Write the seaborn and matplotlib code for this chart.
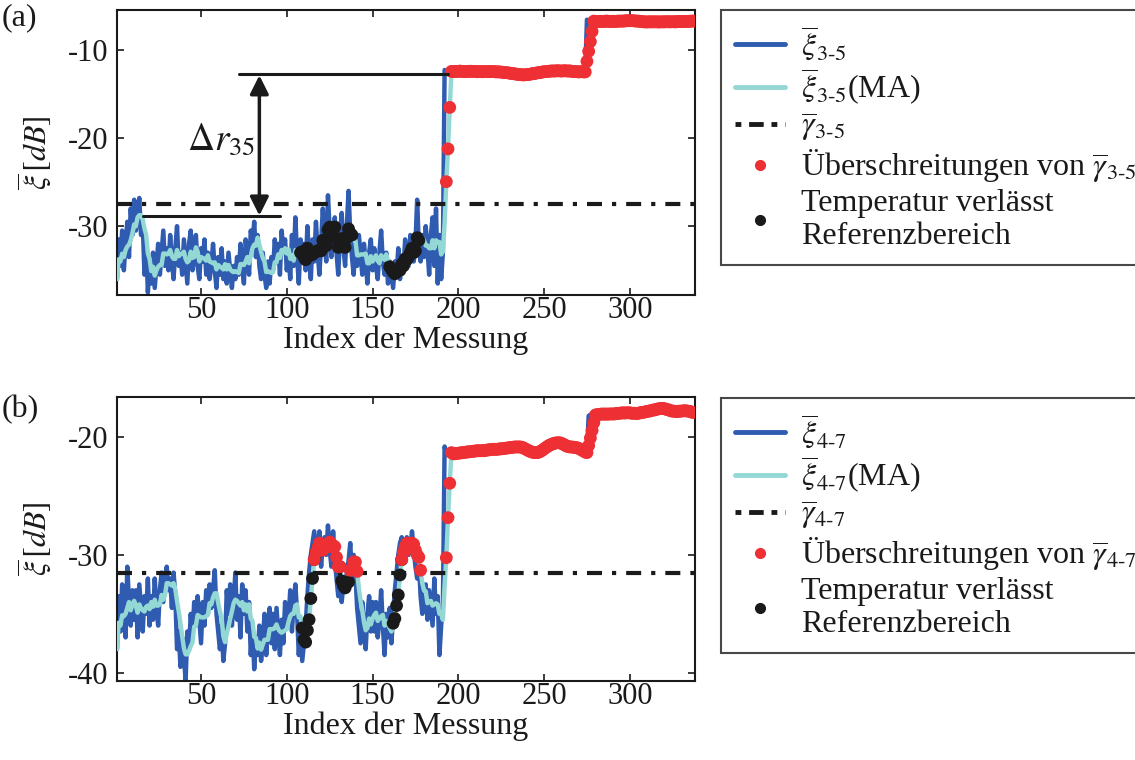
import numpy as np
import pandas as pd
import matplotlib
matplotlib.use("Agg")
import matplotlib.pyplot as plt
from matplotlib.lines import Line2D
import seaborn as sns

# ---- data ----
xi35_low = [
    -36.0, -31.5, -34.5, -30.5, -35.0, -32.0, -29.5, -33.5, -28.0, -31.0,
    -27.0, -30.5, -28.5, -26.8, -31.0, -29.5, -35.5, -32.0, -37.5, -34.0,
    -36.5, -33.0, -37.0, -34.5, -32.0, -35.5, -33.0, -30.5, -34.5, -32.5,
    -35.0, -31.0, -34.0, -36.0, -32.5, -30.0, -34.5, -33.0, -35.5, -31.5,
    -34.0, -36.5, -32.0, -30.5, -35.0, -33.5, -31.0, -34.5, -36.0, -32.5,
    -34.0, -31.5, -35.5, -33.0, -36.0, -34.5, -32.0, -35.0, -37.0, -33.5,
    -35.5, -32.5, -36.0, -34.0, -36.5, -33.0, -35.0, -37.0, -34.5, -36.0,
    -33.5, -35.5, -32.0, -34.5, -36.5, -31.5, -33.0, -35.5, -30.5, -32.0,
    -29.5, -33.5, -31.0, -34.5, -36.0, -33.0, -35.5, -37.0, -34.0, -36.5,
    -33.5, -35.0, -31.5, -34.0, -32.0, -35.5, -30.5, -33.0, -31.5, -35.0,
    -33.0, -36.0, -31.0, -34.5, -29.0, -33.5, -36.5, -31.5, -34.0, -32.0,
    -35.0, -30.0, -33.5, -36.0, -31.5, -34.0, -29.5, -33.0, -35.5, -32.0,
    -28.0, -31.5, -34.0, -26.5, -30.5, -33.5, -31.0, -29.0, -33.0, -35.5,
    -31.0, -28.5, -32.5, -34.5, -30.0, -26.0, -31.0, -33.5, -35.5, -32.0,
    -34.5, -31.0, -33.0, -35.5, -32.0, -34.0, -36.5, -33.0, -31.5, -35.0,
    -32.5, -34.5, -36.0, -33.0, -30.5, -34.0, -35.5, -33.0, -36.5, -34.0,
    -35.5, -37.0, -34.0, -35.5, -32.5, -36.0, -33.5, -35.0, -31.5, -33.0,
    -34.5, -31.0, -32.5, -34.0, -32.0, -27.0, -32.5, -34.0, -31.0, -33.5,
    -30.0, -32.5, -35.5, -31.0, -29.0, -34.5, -28.0, -36.5, -31.0, -36.0, -33.0,
]
xi35_mid = [
    -12.3, -12.5, -12.4, -12.5, -12.6, -12.4, -12.5, -12.3, -12.5, -12.4,
    -12.6, -12.5, -12.4, -12.5, -12.3, -12.5, -12.6, -12.4, -12.5, -12.5,
    -12.4, -12.6, -12.5, -12.4, -12.5, -12.4, -12.6, -12.5, -12.4, -12.5,
    -12.6, -12.5, -12.6, -12.5, -12.6, -12.7, -12.6, -12.7, -12.7, -12.8,
    -12.7, -12.8, -12.9, -12.8, -12.9, -12.8, -12.9, -12.8, -12.7, -12.8,
    -12.7, -12.6, -12.7, -12.6, -12.5, -12.6, -12.5, -12.4, -12.5, -12.4,
    -12.5, -12.4, -12.3, -12.4, -12.5, -12.4, -12.3, -12.4, -12.5, -12.4,
    -12.3, -12.4, -12.5, -12.4, -12.6, -12.5, -12.4, -12.5, -12.6, -12.5,
    -12.4, -12.6, -12.5,
]
xi35_top = [
    -6.6, -6.8, -6.9, -6.8, -6.7, -6.8, -6.9, -6.8, -6.7, -6.8,
    -6.8, -6.7, -6.8, -6.9, -6.8, -6.7, -6.8, -6.8, -6.7, -6.8,
    -6.7, -6.8, -6.7, -6.6, -6.7, -6.8, -6.7, -6.8, -6.7, -6.8,
    -6.8, -6.9, -6.8, -6.9, -6.8, -6.9, -6.8, -6.8, -6.9, -6.8,
    -6.9, -6.8, -6.9, -6.8, -6.8, -6.9, -6.8, -6.8, -6.9, -6.8,
    -6.8, -6.9, -6.8, -6.7, -6.8, -6.9, -6.8, -6.8, -6.7, -6.8,
    -6.8, -6.7, -6.8,
]
xi47_low = [
    -38.0, -33.5, -36.5, -32.5, -35.5, -37.0, -31.0, -34.0, -36.0, -33.0,
    -35.5, -33.0, -37.0, -32.5, -34.5, -36.5, -33.5, -35.0, -32.0, -36.0,
    -33.5, -35.5, -32.0, -34.5, -36.0, -33.0, -31.5, -34.0, -32.5, -31.0,
    -33.0, -32.0, -34.5, -31.5, -33.5, -38.0, -36.5, -39.5, -37.0, -38.5,
    -40.7, -36.5, -38.0, -35.0, -37.0, -34.0, -36.0, -33.5, -35.5, -37.5,
    -34.0, -36.0, -33.0, -35.0, -32.5, -34.5, -33.0, -31.3, -35.0, -36.5,
    -38.0, -36.0, -39.0, -37.5, -33.0, -35.0, -32.5, -36.0, -34.0, -31.5,
    -35.5, -33.5, -37.0, -32.5, -35.0, -33.0, -36.5, -34.0, -38.5, -36.0,
    -39.7, -37.0, -38.5, -36.0, -39.0, -37.5, -35.0, -38.5, -36.0, -34.5,
    -37.5, -35.0, -38.0, -34.5, -36.5, -38.5, -35.5, -37.5, -34.0, -36.0,
    -35.5, -33.0, -36.5, -34.0, -32.5, -35.0, -38.5, -36.0, -39.0, -37.5,
    -36.0, -33.5, -31.5, -30.0, -29.0, -28.0, -30.5, -29.5, -28.0, -31.0,
    -29.0, -28.5, -30.0, -27.5, -29.5, -31.0, -28.0, -30.5, -32.0, -33.5,
    -31.0, -34.0, -32.5, -33.0, -31.5, -30.5, -29.0, -32.0, -30.0, -31.5,
    -34.5, -36.0, -37.5, -34.0, -36.5, -38.0, -35.0, -33.5, -36.5, -34.0,
    -36.5, -34.0, -37.0, -35.5, -33.0, -36.0, -38.5, -35.0, -37.0, -34.5,
    -37.5, -35.0, -33.0, -31.5, -30.0, -29.0, -28.5, -30.0, -29.0, -28.5,
    -30.0, -29.5, -28.0, -29.5, -31.0, -32.0, -30.5, -33.5, -35.0, -34.0,
    -32.5, -35.5, -33.0, -34.5, -36.0, -32.0, -35.0, -33.5, -38.5, -36.0, -34.5,
]
xi47_mid = [
    -20.8, -21.4, -21.5, -21.4, -21.5, -21.3, -21.4, -21.3, -21.4, -21.3,
    -21.3, -21.2, -21.3, -21.2, -21.3, -21.2, -21.1, -21.2, -21.1, -21.2,
    -21.2, -21.1, -21.2, -21.1, -21.0, -21.1, -21.0, -21.1, -21.0, -21.0,
    -21.1, -21.0, -20.9, -21.0, -20.9, -21.0, -20.9, -20.8, -20.9, -20.8,
    -20.9, -20.8, -20.8, -20.9, -20.8, -21.0, -21.1, -21.2, -21.3, -21.2,
    -21.3, -21.4, -21.3, -21.4, -21.2, -21.1, -21.0, -20.9, -20.8, -20.7,
    -20.6, -20.5, -20.6, -20.5, -20.4, -20.5, -20.4, -20.6, -20.7, -20.8,
    -20.8, -20.9, -20.8, -20.9, -20.8, -20.9, -21.0, -20.9, -21.1, -21.2,
    -21.3, -21.4, -21.4, -21.3,
]
xi47_top = [
    -18.2, -18.1, -18.2, -18.1, -18.0, -18.1, -18.0, -18.1, -18.0, -18.1,
    -18.0, -18.1, -18.0, -18.0, -18.1, -18.0, -17.9, -18.0, -17.9, -18.0,
    -17.9, -18.0, -17.9, -17.9, -18.0, -18.1, -18.0, -17.9, -18.0, -17.9,
    -17.9, -17.8, -17.9, -17.8, -17.7, -17.8, -17.7, -17.6, -17.7, -17.6,
    -17.5, -17.6, -17.5, -17.6, -17.7, -17.8, -17.7, -17.8, -17.9, -17.8,
    -17.8, -17.9, -17.8, -17.7, -17.8, -17.7, -17.8, -17.9, -17.8, -17.9,
    -18.0, -18.0,
]
gamma35 = -27.5
gamma47 = -31.5
temp35 = list(range(108, 139)) + list(range(160, 178))
temp47 = list(range(109, 119)) + list(range(131, 137)) + list(range(162, 168))
ma_window = 5
xticks = [50, 100, 150, 200, 250, 300]
yticks35 = [-30, -20, -10]
yticks47 = [-40, -30, -20]

# ---- style ----
sns.set_style("ticks")
plt.rcParams["font.family"] = ["Liberation Serif", "DejaVu Serif"]
plt.rcParams["mathtext.fontset"] = "stix"
plt.rcParams["xtick.direction"] = "in"
plt.rcParams["ytick.direction"] = "in"

BLUE = "#2f5bb0"
CYAN = "#94d8d5"
RED = "#ee3035"
BLACK = "#1a1a1a"
FS = 22

fig = plt.figure(figsize=(11.35, 7.6), dpi=100)
ax_a = fig.add_axes([117 / 1135, 1 - 295 / 760, 578 / 1135, 285 / 760])
ax_b = fig.add_axes([117 / 1135, 1 - 681 / 760, 578 / 1135, 284 / 760])


def draw_panel(ax, raw, gamma, temp, sub, yticks, ylim, legend_top):
    idx = np.arange(1, len(raw) + 1)
    df = pd.DataFrame({"idx": idx, "raw": raw})
    df["ma"] = df["raw"].rolling(ma_window, min_periods=1).mean()
    over = df[df["ma"] > gamma]
    hot = df[df["idx"].isin(temp)]

    sns.lineplot(data=df, x="idx", y="raw", ax=ax, color=BLUE, lw=3.2, zorder=2)
    sns.lineplot(data=df, x="idx", y="ma", ax=ax, color=CYAN, lw=3.2, zorder=3)
    ax.axhline(gamma, color=BLACK, lw=3.0, dashes=(3.6, 2.4, 1.0, 2.4), zorder=4)
    sns.scatterplot(data=hot, x="idx", y="ma", ax=ax, color=BLACK, s=85,
                    edgecolor="none", zorder=5)
    sns.scatterplot(data=over, x="idx", y="ma", ax=ax, color=RED, s=85,
                    edgecolor="none", zorder=6)

    ax.set_xlim(1, 338)
    ax.set_ylim(*ylim)
    ax.set_xticks(xticks)
    ax.set_yticks(yticks)
    ax.set_xticklabels([str(t) for t in xticks])
    ax.set_yticklabels([str(t) for t in yticks])
    ax.tick_params(labelsize=FS, length=5, width=1.2, top=True, right=True,
                   colors=BLACK)
    ax.tick_params(axis="x", pad=1)
    ax.tick_params(axis="y", pad=6)
    for sp in ax.spines.values():
        sp.set_visible(True)
        sp.set_linewidth(1.5)
        sp.set_color(BLACK)
    ax.set_xlabel("Index der Messung", fontsize=23, color=BLACK, labelpad=0)
    ax.set_ylabel(r"$\overline{\xi}\,[dB]$", fontsize=23, color=BLACK, labelpad=10)

    handles = [
        Line2D([], [], color=BLUE, lw=3.5),
        Line2D([], [], color=CYAN, lw=3.5),
        Line2D([], [], color=BLACK, lw=3.5, dashes=(1.2, 1.6, 3.0, 1.6)),
        Line2D([], [], color=RED, marker="o", ls="none", ms=7),
        Line2D([], [], color=BLACK, marker="o", ls="none", ms=7),
    ]
    labels = [
        r"$\overline{\xi}_{%s}$" % sub,
        r"$\overline{\xi}_{%s}$(MA)" % sub,
        r"$\overline{\gamma}_{%s}$" % sub,
        r"Überschreitungen von $\overline{\gamma}_{%s}$" % sub,
        "Temperatur verlässt\nReferenzbereich",
    ]
    leg = fig.legend(handles, labels, loc="upper left",
                     bbox_to_anchor=(721 / 1135, 1 - legend_top / 760),
                     fontsize=23, frameon=True, fancybox=False,
                     handlelength=1.55, handletextpad=0.5, labelspacing=0.12,
                     borderpad=0.45, borderaxespad=0)
    leg.get_frame().set_edgecolor(BLACK)
    leg.get_frame().set_linewidth(1.5)
    for t in leg.get_texts():
        t.set_color(BLACK)


draw_panel(ax_a, xi35_low + xi35_mid + xi35_top, gamma35, temp35,
           r"3\text{-}5", yticks35, (-37.8, -5.5), 10)
draw_panel(ax_b, xi47_low + xi47_mid + xi47_top, gamma47, temp47,
           r"4\text{-}7", yticks47, (-40.7, -16.6), 398)

# delta annotation in panel (a)
ax_a.plot([72, 194], [-12.8, -12.8], color=BLACK, lw=2.2, zorder=7)
ax_a.plot([16, 96], [-28.9, -28.9], color=BLACK, lw=2.2, zorder=7)
ax_a.annotate("", xy=(84, -12.9), xytext=(84, -28.8),
              arrowprops=dict(arrowstyle="<|-|>", color=BLACK, lw=2.5,
                              mutation_scale=28, shrinkA=0, shrinkB=0),
              zorder=7)
ax_a.text(62, -20.2, r"$\Delta r_{\mathit{35}}$", fontsize=27, color=BLACK,
          ha="center", va="center")

fig.text(2 / 1135, 1 - 18 / 760, "(a)", fontsize=23, color=BLACK, va="center")
fig.text(2 / 1135, 1 - 410 / 760, "(b)", fontsize=23, color=BLACK, va="center")

fig.savefig("out.png", dpi=100)
